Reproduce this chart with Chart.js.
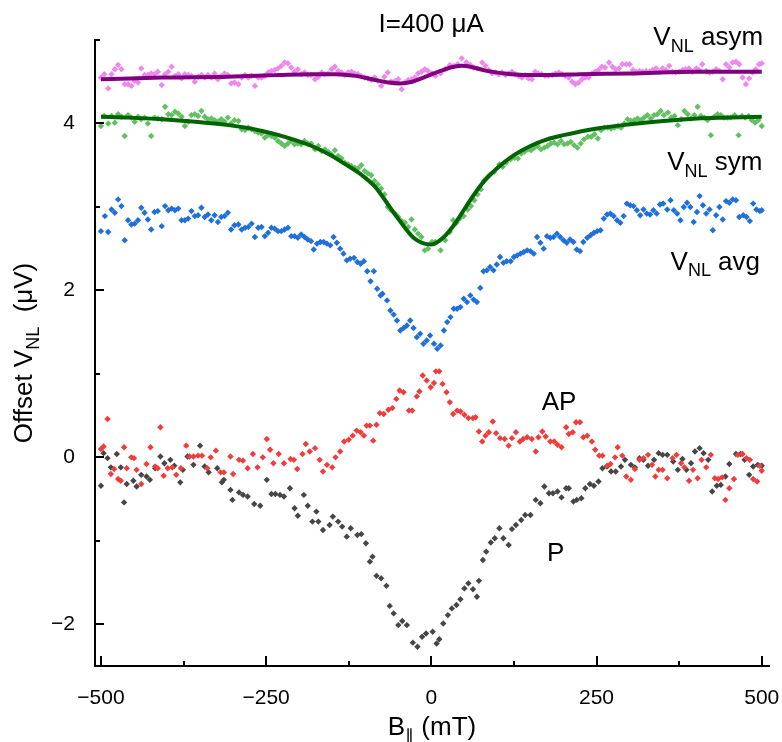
<!DOCTYPE html>
<html>
<head>
<meta charset="utf-8">
<script src="https://cdn.jsdelivr.net/npm/chart.js@4"></script>
<style>
  body { margin: 0; background: #fff; }
</style>
</head>
<body>
<canvas id="nlChart" width="782" height="742"></canvas>
<script>
var FONT = '"Liberation Sans", Arial, sans-serif';

// field sweep (mT) and offset V_NL (uV)
const asymPts = [[-500,4.55],[-495,4.59],[-489,4.42],[-484,4.59],[-479,4.65],[-474,4.70],[-469,4.65],[-464,4.47],[-459,4.47],[-454,4.45],[-449,4.51],[-444,4.49],[-439,4.66],[-434,4.58],[-429,4.58],[-424,4.60],[-419,4.59],[-414,4.62],[-408,4.46],[-403,4.59],[-398,4.62],[-393,4.68],[-388,4.57],[-383,4.59],[-378,4.54],[-373,4.59],[-368,4.58],[-363,4.57],[-358,4.50],[-353,4.56],[-348,4.58],[-343,4.55],[-338,4.58],[-333,4.55],[-328,4.60],[-323,4.53],[-318,4.57],[-313,4.60],[-308,4.58],[-303,4.48],[-298,4.49],[-292,4.47],[-287,4.55],[-282,4.58],[-277,4.55],[-272,4.57],[-267,4.45],[-262,4.55],[-257,4.55],[-252,4.57],[-247,4.61],[-242,4.63],[-237,4.64],[-232,4.66],[-227,4.69],[-222,4.73],[-217,4.72],[-212,4.67],[-207,4.62],[-202,4.65],[-197,4.59],[-192,4.61],[-187,4.58],[-182,4.58],[-176,4.53],[-171,4.56],[-166,4.61],[-161,4.59],[-156,4.60],[-151,4.65],[-146,4.68],[-141,4.63],[-136,4.61],[-131,4.58],[-126,4.61],[-121,4.62],[-116,4.60],[-111,4.59],[-106,4.57],[-101,4.55],[-96,4.54],[-91,4.52],[-86,4.55],[-81,4.51],[-76,4.45],[-71,4.56],[-66,4.61],[-61,4.50],[-55,4.51],[-50,4.53],[-45,4.41],[-40,4.49],[-35,4.52],[-30,4.53],[-25,4.55],[-20,4.60],[-15,4.62],[-10,4.65],[-5,4.63],[1,4.60],
  [6,4.57],[14,4.60],[21,4.65],[28,4.70],[34,4.69],[40,4.71],[46,4.78],[53,4.73],[59,4.70],[64,4.67],[70,4.66],[77,4.73],[82,4.69],[87,4.64],[92,4.60],[97,4.61],[102,4.59],[107,4.61],[112,4.58],[117,4.60],[122,4.62],[127,4.59],[132,4.57],[137,4.55],[142,4.58],[147,4.54],[152,4.53],[157,4.62],[162,4.60],[167,4.59],[172,4.57],[177,4.57],[183,4.58],[188,4.60],[193,4.61],[198,4.59],[203,4.57],[208,4.55],[213,4.50],[218,4.47],[223,4.49],[228,4.53],[233,4.55],[238,4.55],[243,4.60],[248,4.62],[253,4.64],[258,4.68],[263,4.67],[269,4.73],[274,4.68],[279,4.65],[284,4.66],[289,4.71],[295,4.71],[300,4.71],[305,4.64],[310,4.62],[315,4.63],[320,4.62],[325,4.63],[330,4.62],[335,4.64],[340,4.66],[345,4.62],[350,4.66],[355,4.64],[360,4.69],[365,4.62],[370,4.61],[375,4.62],[380,4.64],[385,4.65],[390,4.66],[395,4.62],[401,4.66],[405,4.64],[410,4.71],[416,4.63],[421,4.61],[426,4.62],[431,4.65],[436,4.63],[441,4.53],[446,4.71],[451,4.67],[456,4.73],[461,4.74],[466,4.71],[471,4.55],[476,4.47],[481,4.54],[486,4.61],[491,4.65],[496,4.71],[500,4.72]];

const asymFit = [[-500,4.53],[-407,4.55],[-307,4.56],[-231,4.58],[-181,4.59],[-145,4.59],[-115,4.57],[-90,4.53],[-65,4.49],[-47,4.48],[-29,4.50],[-12,4.55],[4,4.60],[14,4.63],[29,4.67],[46,4.69],[64,4.67],[84,4.63],[109,4.60],[140,4.58],[175,4.58],[225,4.59],[301,4.60],[402,4.62],[500,4.62]];

const symPts = [[-500,3.97],[-495,4.09],[-489,4.00],[-484,4.09],[-479,4.01],[-474,4.11],[-469,4.08],[-464,3.85],[-459,4.10],[-454,4.07],[-449,4.02],[-444,4.08],[-439,4.05],[-434,4.07],[-429,4.00],[-424,3.85],[-419,4.07],[-414,4.06],[-408,4.05],[-403,4.20],[-398,4.11],[-393,4.10],[-388,4.14],[-383,4.12],[-378,4.08],[-373,3.97],[-368,4.02],[-363,4.10],[-358,4.11],[-353,4.09],[-348,4.15],[-343,4.08],[-338,4.05],[-333,4.06],[-328,4.04],[-323,4.02],[-318,4.05],[-313,4.02],[-308,4.07],[-303,4.00],[-298,4.04],[-292,4.03],[-287,3.93],[-282,3.92],[-277,3.95],[-272,3.93],[-267,3.91],[-262,3.89],[-257,3.88],[-252,3.83],[-247,3.86],[-242,3.85],[-237,3.83],[-232,3.79],[-227,3.76],[-222,3.73],[-217,3.76],[-212,3.79],[-207,3.75],[-202,3.76],[-197,3.75],[-192,3.79],[-187,3.76],[-182,3.76],[-176,3.69],[-171,3.73],[-166,3.67],[-161,3.69],[-156,3.66],[-151,3.63],[-146,3.68],[-141,3.61],[-136,3.58],[-131,3.53],[-126,3.51],[-121,3.49],[-116,3.47],[-111,3.46],[-106,3.50],[-101,3.43],[-96,3.40],[-91,3.38],[-86,3.31],[-81,3.27],[-76,3.22],[-71,3.15],[-66,3.00],[-61,2.96],[-55,2.92],[-50,2.88],[-45,2.83],[-40,2.81],[-35,2.76],[-30,2.85],[-25,2.73],[-20,2.68],[-15,2.64],[-10,2.48],[-5,2.50],[1,2.58],
  [6,2.58],[14,2.48],[21,2.60],[28,2.70],[33,2.84],[38,2.81],[43,2.86],[49,2.89],[55,2.97],[60,3.01],[65,3.08],[70,3.15],[75,3.21],[80,3.32],[85,3.36],[89,3.39],[95,3.42],[103,3.51],[108,3.48],[113,3.53],[120,3.57],[126,3.59],[131,3.58],[136,3.64],[141,3.66],[146,3.69],[151,3.68],[156,3.71],[161,3.73],[166,3.69],[171,3.71],[176,3.73],[181,3.76],[186,3.77],[191,3.75],[196,3.79],[201,3.75],[206,3.76],[211,3.78],[216,3.74],[221,3.71],[226,3.76],[231,3.81],[237,3.84],[242,3.84],[247,3.87],[252,3.82],[257,3.92],[262,3.95],[267,3.95],[272,3.94],[277,3.95],[282,3.97],[287,3.95],[292,4.00],[297,4.05],[302,4.03],[307,4.04],[312,4.06],[317,4.04],[322,4.07],[327,4.10],[332,4.06],[337,4.10],[342,4.11],[347,4.15],[352,4.10],[358,4.13],[363,4.07],[368,4.09],[373,3.98],[378,4.05],[383,4.15],[388,4.11],[393,4.06],[398,4.10],[403,4.20],[408,4.09],[413,4.07],[418,4.04],[423,3.86],[428,4.08],[433,4.11],[438,4.10],[443,4.07],[448,4.07],[453,4.07],[459,4.10],[465,3.86],[470,4.09],[475,4.07],[480,4.09],[485,4.04],[490,4.01],[495,4.04],[500,3.97]];

const symFit = [[-500,4.08],[-458,4.07],[-407,4.05],[-357,4.02],[-307,3.98],[-281,3.95],[-256,3.91],[-231,3.86],[-206,3.80],[-181,3.73],[-155,3.63],[-130,3.51],[-105,3.38],[-85,3.24],[-70,3.08],[-54,2.90],[-39,2.74],[-27,2.63],[-14,2.57],[0,2.55],[19,2.64],[34,2.78],[49,2.96],[64,3.14],[79,3.30],[99,3.46],[125,3.62],[150,3.73],[175,3.81],[200,3.86],[251,3.94],[301,3.99],[351,4.03],[402,4.06],[452,4.07],[500,4.08]];

const avgPts = [[-500,2.71],[-494,2.89],[-489,2.70],[-484,2.97],[-479,2.93],[-474,3.09],[-469,3.01],[-464,2.60],[-459,2.84],[-454,2.79],[-449,2.80],[-444,2.84],[-439,2.99],[-434,2.93],[-429,2.85],[-424,2.73],[-419,2.94],[-414,2.95],[-408,2.77],[-403,3.01],[-398,2.96],[-393,2.98],[-388,2.96],[-383,2.98],[-378,2.84],[-373,2.84],[-368,2.86],[-363,2.95],[-358,2.89],[-353,2.90],[-348,2.99],[-343,2.88],[-338,2.91],[-333,2.84],[-328,2.90],[-323,2.82],[-318,2.88],[-313,2.89],[-308,2.93],[-303,2.73],[-298,2.78],[-292,2.79],[-287,2.73],[-282,2.75],[-277,2.76],[-272,2.80],[-267,2.64],[-262,2.75],[-257,2.76],[-252,2.65],[-247,2.69],[-242,2.75],[-237,2.74],[-232,2.71],[-227,2.71],[-222,2.73],[-217,2.75],[-212,2.65],[-207,2.65],[-202,2.63],[-197,2.67],[-192,2.64],[-187,2.61],[-182,2.59],[-178,2.49],[-173,2.56],[-168,2.58],[-163,2.58],[-158,2.56],[-153,2.54],[-148,2.64],[-143,2.57],[-138,2.50],[-133,2.44],[-128,2.36],[-123,2.38],[-117,2.39],[-112,2.34],[-107,2.32],[-102,2.35],[-97,2.23],[-92,2.11],[-87,2.23],[-82,2.02],[-77,1.94],[-74,1.96],[-67,1.88],[-62,1.76],[-57,1.71],[-52,1.64],[-47,1.52],[-42,1.55],[-37,1.58],[-32,1.64],[-27,1.55],[-22,1.44],[-17,1.48],[-12,1.36],[-7,1.40],[-2,1.46],[4,1.36],
  [9,1.30],[14,1.34],[19,1.52],[24,1.62],[29,1.68],[34,1.78],[39,1.78],[44,1.80],[49,1.90],[54,1.86],[59,1.94],[64,1.89],[69,1.86],[74,2.03],[79,2.23],[84,2.24],[89,2.28],[94,2.24],[99,2.31],[104,2.40],[109,2.33],[114,2.35],[120,2.35],[125,2.40],[130,2.42],[135,2.44],[140,2.46],[145,2.48],[150,2.47],[155,2.44],[160,2.64],[165,2.57],[170,2.50],[175,2.65],[180,2.63],[185,2.64],[190,2.68],[195,2.64],[200,2.60],[205,2.57],[210,2.61],[215,2.58],[220,2.49],[225,2.47],[230,2.58],[236,2.63],[241,2.66],[246,2.69],[251,2.71],[256,2.72],[261,2.86],[266,2.91],[271,2.92],[276,2.89],[281,2.84],[286,2.81],[291,2.89],[296,3.04],[301,3.02],[306,3.01],[311,2.96],[316,2.90],[321,2.97],[326,2.92],[331,2.91],[336,2.96],[341,2.92],[346,3.03],[351,3.04],[357,2.97],[362,3.08],[367,2.96],[372,2.92],[377,2.84],[382,3.00],[387,3.05],[392,3.00],[397,2.82],[402,2.94],[406,3.13],[411,3.02],[416,2.92],[421,2.97],[426,2.72],[431,2.90],[436,3.00],[441,2.85],[446,3.07],[451,3.05],[456,3.09],[461,3.08],[466,2.88],[472,2.90],[477,2.88],[482,2.83],[487,3.04],[492,2.97],[497,2.95],[500,2.96]];

const apPts = [[-500,0.10],[-496,0.13],[-490,0.46],[-485,-0.20],[-480,-0.14],[-474,-0.26],[-470,-0.28],[-465,0.12],[-461,-0.13],[-454,0.00],[-450,-0.01],[-446,-0.15],[-439,-0.32],[-431,-0.08],[-425,0.12],[-418,-0.11],[-414,-0.13],[-410,0.36],[-405,-0.22],[-399,-0.13],[-392,-0.12],[-386,-0.21],[-379,-0.13],[-371,0.14],[-366,0.01],[-360,0.01],[-353,0.02],[-347,0.02],[-339,-0.13],[-334,0.00],[-326,0.08],[-319,-0.18],[-314,-0.18],[-304,0.01],[-300,-0.20],[-291,-0.03],[-285,-0.04],[-278,-0.13],[-270,0.04],[-263,-0.12],[-255,0.00],[-249,0.22],[-244,0.09],[-239,-0.07],[-231,0.04],[-223,-0.07],[-213,-0.02],[-208,-0.03],[-203,-0.14],[-195,0.04],[-190,0.16],[-184,0.07],[-176,0.11],[-169,-0.03],[-164,-0.17],[-158,-0.09],[-150,-0.12],[-145,0.00],[-138,0.07],[-132,0.19],[-125,0.21],[-119,0.26],[-113,0.32],[-107,0.30],[-102,0.26],[-98,0.38],[-93,0.38],[-88,0.20],[-83,0.39],[-78,0.53],[-72,0.52],[-65,0.57],[-59,0.59],[-53,0.70],[-48,0.80],[-42,0.78],[-34,0.56],[-29,0.56],[-22,0.73],[-18,0.79],[-13,0.98],[-7,0.92],[-1,0.84],[4,0.89],[7,1.03],[12,1.03],[17,0.88],[23,0.78],[28,0.66],[33,0.52],[39,0.56],[44,0.55],[50,0.51],[56,0.47],[63,0.47],[67,0.48],[72,0.31],[77,0.19],[82,0.26],[87,0.30],[93,0.43],[98,0.29],[104,0.23],[111,0.22],[117,0.14],[122,0.23],[128,0.30],[134,0.19],[139,0.22],[145,0.24],[152,0.22],[158,0.07],[162,0.24],[168,0.31],[173,0.25],[180,0.19],[186,0.19],[191,0.15],[197,0.12],[204,0.36],[208,0.28],[214,0.30],[219,0.42],[225,0.42],[230,0.24],[236,0.26],[243,0.19],[248,0.09],[254,0.02],[259,0.02],[266,-0.10],[271,-0.08],[278,0.00],[282,0.12],[289,0.02],[295,-0.23],[302,-0.27],[308,-0.14],[315,-0.03],[321,-0.01],[328,0.03],[334,-0.09],[339,-0.23],[344,-0.15],[350,-0.15],[357,-0.25],[365,-0.01],[371,0.03],[378,-0.07],[383,-0.12],[390,-0.28],[396,-0.15],[403,-0.25],[409,-0.03],[416,-0.12],[423,0.03],[429,-0.25],[434,-0.26],[440,-0.24],[445,-0.51],[451,-0.37],[458,-0.26],[464,0.03],[471,0.04],[477,-0.01],[482,-0.03],[487,-0.26],[493,-0.29],[497,-0.10],[500,-0.16]];

const pPts = [[-500,-0.34],[-496,0.05],[-490,-0.01],[-485,-0.12],[-476,0.04],[-470,-0.12],[-465,-0.54],[-461,-0.32],[-451,-0.28],[-446,-0.35],[-439,-0.21],[-431,-0.23],[-426,-0.27],[-418,-0.13],[-410,0.01],[-404,-0.07],[-395,-0.03],[-389,-0.10],[-380,-0.30],[-376,-0.15],[-369,0.01],[-360,-0.09],[-350,0.14],[-343,-0.11],[-337,-0.18],[-324,-0.13],[-317,-0.30],[-314,-0.27],[-304,-0.39],[-301,-0.51],[-291,-0.42],[-285,-0.45],[-278,-0.47],[-268,-0.56],[-259,-0.58],[-249,-0.27],[-242,-0.44],[-236,-0.44],[-229,-0.45],[-223,-0.47],[-214,-0.37],[-207,-0.61],[-202,-0.70],[-193,-0.45],[-187,-0.58],[-180,-0.77],[-174,-0.65],[-171,-0.77],[-164,-0.87],[-154,-0.81],[-149,-0.71],[-141,-0.77],[-135,-0.83],[-128,-0.95],[-122,-0.85],[-112,-0.93],[-106,-0.92],[-99,-1.03],[-93,-1.25],[-89,-1.19],[-83,-1.42],[-76,-1.45],[-68,-1.54],[-63,-1.78],[-57,-1.87],[-50,-2.01],[-44,-1.96],[-37,-2.01],[-28,-2.22],[-21,-2.27],[-14,-2.15],[-8,-2.11],[2,-2.09],[8,-2.23],[12,-2.18],[18,-1.99],[25,-1.89],[31,-1.81],[38,-1.77],[44,-1.70],[50,-1.57],[56,-1.51],[63,-1.58],[69,-1.67],[72,-1.48],[78,-1.23],[83,-1.13],[90,-1.02],[96,-0.97],[103,-0.85],[109,-0.97],[117,-1.05],[122,-0.86],[128,-0.81],[136,-0.75],[142,-0.69],[150,-0.69],[158,-0.51],[165,-0.55],[171,-0.35],[178,-0.43],[184,-0.43],[191,-0.41],[197,-0.48],[204,-0.37],[208,-0.37],[215,-0.53],[220,-0.51],[227,-0.49],[233,-0.37],[240,-0.32],[246,-0.34],[253,-0.29],[259,-0.13],[266,-0.11],[272,-0.17],[279,-0.17],[287,-0.11],[293,-0.03],[302,-0.09],[308,-0.12],[315,-0.01],[321,-0.03],[328,-0.10],[337,-0.03],[344,0.05],[350,0.03],[357,0.03],[366,-0.05],[373,-0.15],[380,-0.02],[386,-0.15],[393,-0.07],[399,0.07],[406,0.11],[412,0.05],[419,-0.03],[425,-0.41],[432,-0.34],[438,-0.33],[445,-0.23],[451,-0.08],[461,0.04],[468,0.04],[474,-0.03],[481,-0.21],[487,-0.11],[494,-0.09],[500,-0.10]];

const xTicks = [-500, -375, -250, -125, 0, 125, 250, 375, 500];
const yTicks = [-2, -1, 0, 1, 2, 3, 4, 5];

function toXY(arr) {
    return arr.map(function(p) { return {x: p[0], y: p[1]}; });
}

function minusLabel(v) {
    return v < 0 ? '\u2212' + Math.abs(v) : String(v);
}

// draw a string made of normal and subscript pieces
function richText(ctx, parts, x, y, size, align) {
    var subSize = Math.round(size * 0.7);
    var w = 0;
    parts.forEach(function(p) {
        ctx.font = (p[1] ? subSize : size) + 'px ' + FONT;
        w += ctx.measureText(p[0]).width;
    });
    var cx = align === 'center' ? x - w / 2 : x;
    ctx.textAlign = 'left';
    ctx.textBaseline = 'alphabetic';
    parts.forEach(function(p) {
        ctx.font = (p[1] ? subSize : size) + 'px ' + FONT;
        ctx.fillText(p[0], cx, p[1] ? y + size * 0.26 : y);
        cx += ctx.measureText(p[0]).width;
    });
}

// ticks pointing into the plot, long on labelled values
const innerTicks = {
    id: 'innerTicks',
    afterDraw(chart) {
        const ctx = chart.ctx, a = chart.chartArea, xs = chart.scales.x, ys = chart.scales.y;
        ctx.save();
        ctx.strokeStyle = '#000';
        ctx.lineWidth = 2;
        xTicks.forEach(function(v) {
            var px = Math.round(xs.getPixelForValue(v));
            var len = v % 250 === 0 ? 10 : 5;
            ctx.beginPath(); ctx.moveTo(px, a.bottom); ctx.lineTo(px, a.bottom - len); ctx.stroke();
        });
        yTicks.forEach(function(v) {
            var py = Math.round(ys.getPixelForValue(v));
            var len = v % 2 === 0 ? 9 : 5;
            ctx.beginPath(); ctx.moveTo(a.left, py); ctx.lineTo(a.left + len, py); ctx.stroke();
        });
        ctx.restore();
    }
};

// axis titles and curve labels
const labels = {
    id: 'labels',
    afterDraw(chart) {
        const ctx = chart.ctx, a = chart.chartArea, xs = chart.scales.x, ys = chart.scales.y;
        ctx.save();
        ctx.fillStyle = '#000';
        function at(parts, x, y) {
            richText(ctx, parts, xs.getPixelForValue(x), ys.getPixelForValue(y), 26, 'left');
        }
        at([['I=400 \u03bcA', false]], -80, 5.09);
        at([['V', false], ['NL', true], [' asym', false]], 336, 4.94);
        at([['V', false], ['NL', true], [' sym', false]], 357, 3.44);
        at([['V', false], ['NL', true], [' avg', false]], 362, 2.25);
        at([['AP', false]], 167, 0.57);
        at([['P', false]], 175, -1.24);

        richText(ctx, [['B', false], ['\u2225', true], [' (mT)', false]], (a.left + a.right) / 2, 735, 26, 'center');

        ctx.translate(32, (a.top + a.bottom) / 2);
        ctx.rotate(-Math.PI / 2);
        richText(ctx, [['Offset V', false], ['NL', true], ['  (\u03bcV)', false]], 0, 0, 26, 'center');
        ctx.restore();
    }
};

function pointSet(data, color) {
    return {
        data: toXY(data),
        backgroundColor: color,
        borderWidth: 0,
        pointStyle: 'rectRot',
        pointRadius: 3.2,
        order: 2
    };
}

function fitSet(data, color) {
    return {
        type: 'line',
        data: toXY(data),
        borderColor: color,
        borderWidth: 4,
        pointRadius: 0,
        fill: false,
        cubicInterpolationMode: 'monotone',
        order: 1
    };
}

var ctx = document.getElementById('nlChart').getContext('2d');

new Chart(ctx, {
    type: 'scatter',
    data: {
        datasets: [
            fitSet(asymFit, '#800080'),
            fitSet(symFit, '#006400'),
            pointSet(asymPts, '#EE88EE'),
            pointSet(symPts, '#62C062'),
            pointSet(avgPts, '#1F6FDC'),
            pointSet(apPts, '#F23C3C'),
            pointSet(pPts, '#464646')
        ]
    },
    options: {
        responsive: false,
        animation: false,
        layout: {
            padding: { left: 0, top: 40, right: 13, bottom: 0 }
        },
        plugins: {
            legend: { display: false },
            tooltip: { enabled: false }
        },
        scales: {
            x: {
                type: 'linear',
                min: -509,
                max: 511,
                afterFit: function(s) { s.height = 76; s.paddingLeft = 0; s.paddingRight = 0; },
                afterBuildTicks: function(s) { s.ticks = xTicks.map(function(v) { return {value: v}; }); },
                grid: { display: false },
                border: { display: true, color: '#000', width: 2 },
                ticks: {
                    autoSkip: false,
                    maxRotation: 0,
                    padding: 12,
                    color: '#000',
                    font: { family: FONT, size: 21 },
                    callback: function(v) { return v % 250 === 0 ? minusLabel(v) : ''; }
                }
            },
            y: {
                min: -2.5,
                max: 5,
                afterFit: function(s) { s.width = 95; s.paddingTop = 0; s.paddingBottom = 0; },
                afterBuildTicks: function(s) { s.ticks = yTicks.map(function(v) { return {value: v}; }); },
                grid: { display: false },
                border: { display: true, color: '#000', width: 2 },
                ticks: {
                    autoSkip: false,
                    padding: 12,
                    color: '#000',
                    font: { family: FONT, size: 21 },
                    callback: function(v) { return v % 2 === 0 ? minusLabel(v) : ''; }
                }
            }
        }
    },
    plugins: [innerTicks, labels]
});
</script>
</body>
</html>
